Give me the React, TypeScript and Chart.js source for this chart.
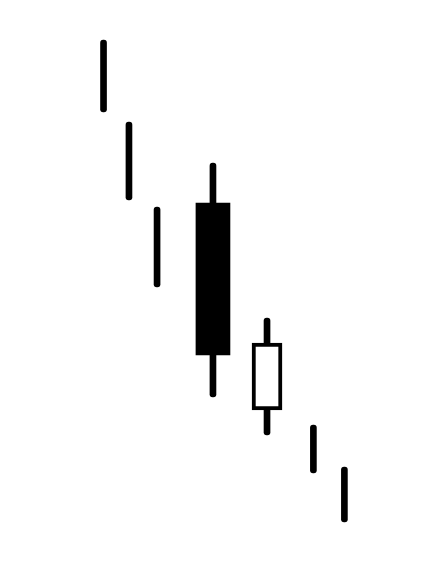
import React, { useEffect, useRef } from "react";
import { Chart, registerables } from "chart.js";

Chart.register(...registerables);

// Sessions (time axis)
const sessions = [1.02, 1.98, 3.04, 5.15, 7.19, 8.94, 10.11];
// Price ranges
const highs = [56.0, 47.8, 39.3, 43.7, 28.2, 17.5, 13.3];
const lows = [48.8, 40.0, 31.3, 20.3, 16.5, 12.7, 7.8];
// Candle bodies (null = no body drawn)
const opens = [null, null, null, 39.7, 19.0, null, null];
const closes = [null, null, null, 24.5, 25.7, null, null];

export default function App() {
  const ref = useRef<HTMLCanvasElement | null>(null);

  useEffect(() => {
    if (!ref.current) return;
    const wickData = sessions.map((x, i) => ({ x, y: [lows[i], highs[i]] }));
    const bodies = sessions
      .map((x, i) =>
        opens[i] === null ? null : { x, y: [opens[i] as number, closes[i] as number], down: (closes[i] as number) < (opens[i] as number) }
      )
      .filter((d) => d !== null) as { x: number; y: number[]; down: boolean }[];
    const downData = bodies.filter((b) => b.down).map((b) => ({ x: b.x, y: b.y }));
    const upData = bodies.filter((b) => !b.down).map((b) => ({ x: b.x, y: b.y }));

    const chart = new Chart(ref.current, {
      type: "bar",
      data: {
        datasets: [
          {
            label: "down",
            data: downData as any,
            backgroundColor: "#000000",
            borderColor: "#000000",
            borderWidth: 0,
            borderSkipped: false,
            barThickness: 34,
            grouped: false,
            order: 0,
          } as any,
          {
            label: "up",
            data: upData as any,
            backgroundColor: "#ffffff",
            borderColor: "#000000",
            borderWidth: 4,
            borderSkipped: false,
            barThickness: 30,
            grouped: false,
            order: 0,
          } as any,
          {
            label: "range",
            data: wickData as any,
            backgroundColor: "#000000",
            borderWidth: 0,
            borderRadius: 3,
            borderSkipped: false,
            barThickness: 6,
            grouped: false,
            order: 1,
          } as any,
        ],
      },
      options: {
        animation: false,
        responsive: false,
        layout: { padding: 0 },
        plugins: { legend: { display: false }, tooltip: { enabled: false } },
        scales: {
          x: { type: "linear", display: false, min: -2.887, max: 14.02, offset: false },
          y: { type: "linear", display: false, min: 2.9, max: 60.0 },
        },
      },
    });
    return () => chart.destroy();
  }, []);

  return (
    <div style={{ position: "fixed", left: 0, top: 0, width: 448, height: 571, background: "#fff" }}>
      <canvas ref={ref} width={448} height={571} style={{ display: "block" }} />
    </div>
  );
}
